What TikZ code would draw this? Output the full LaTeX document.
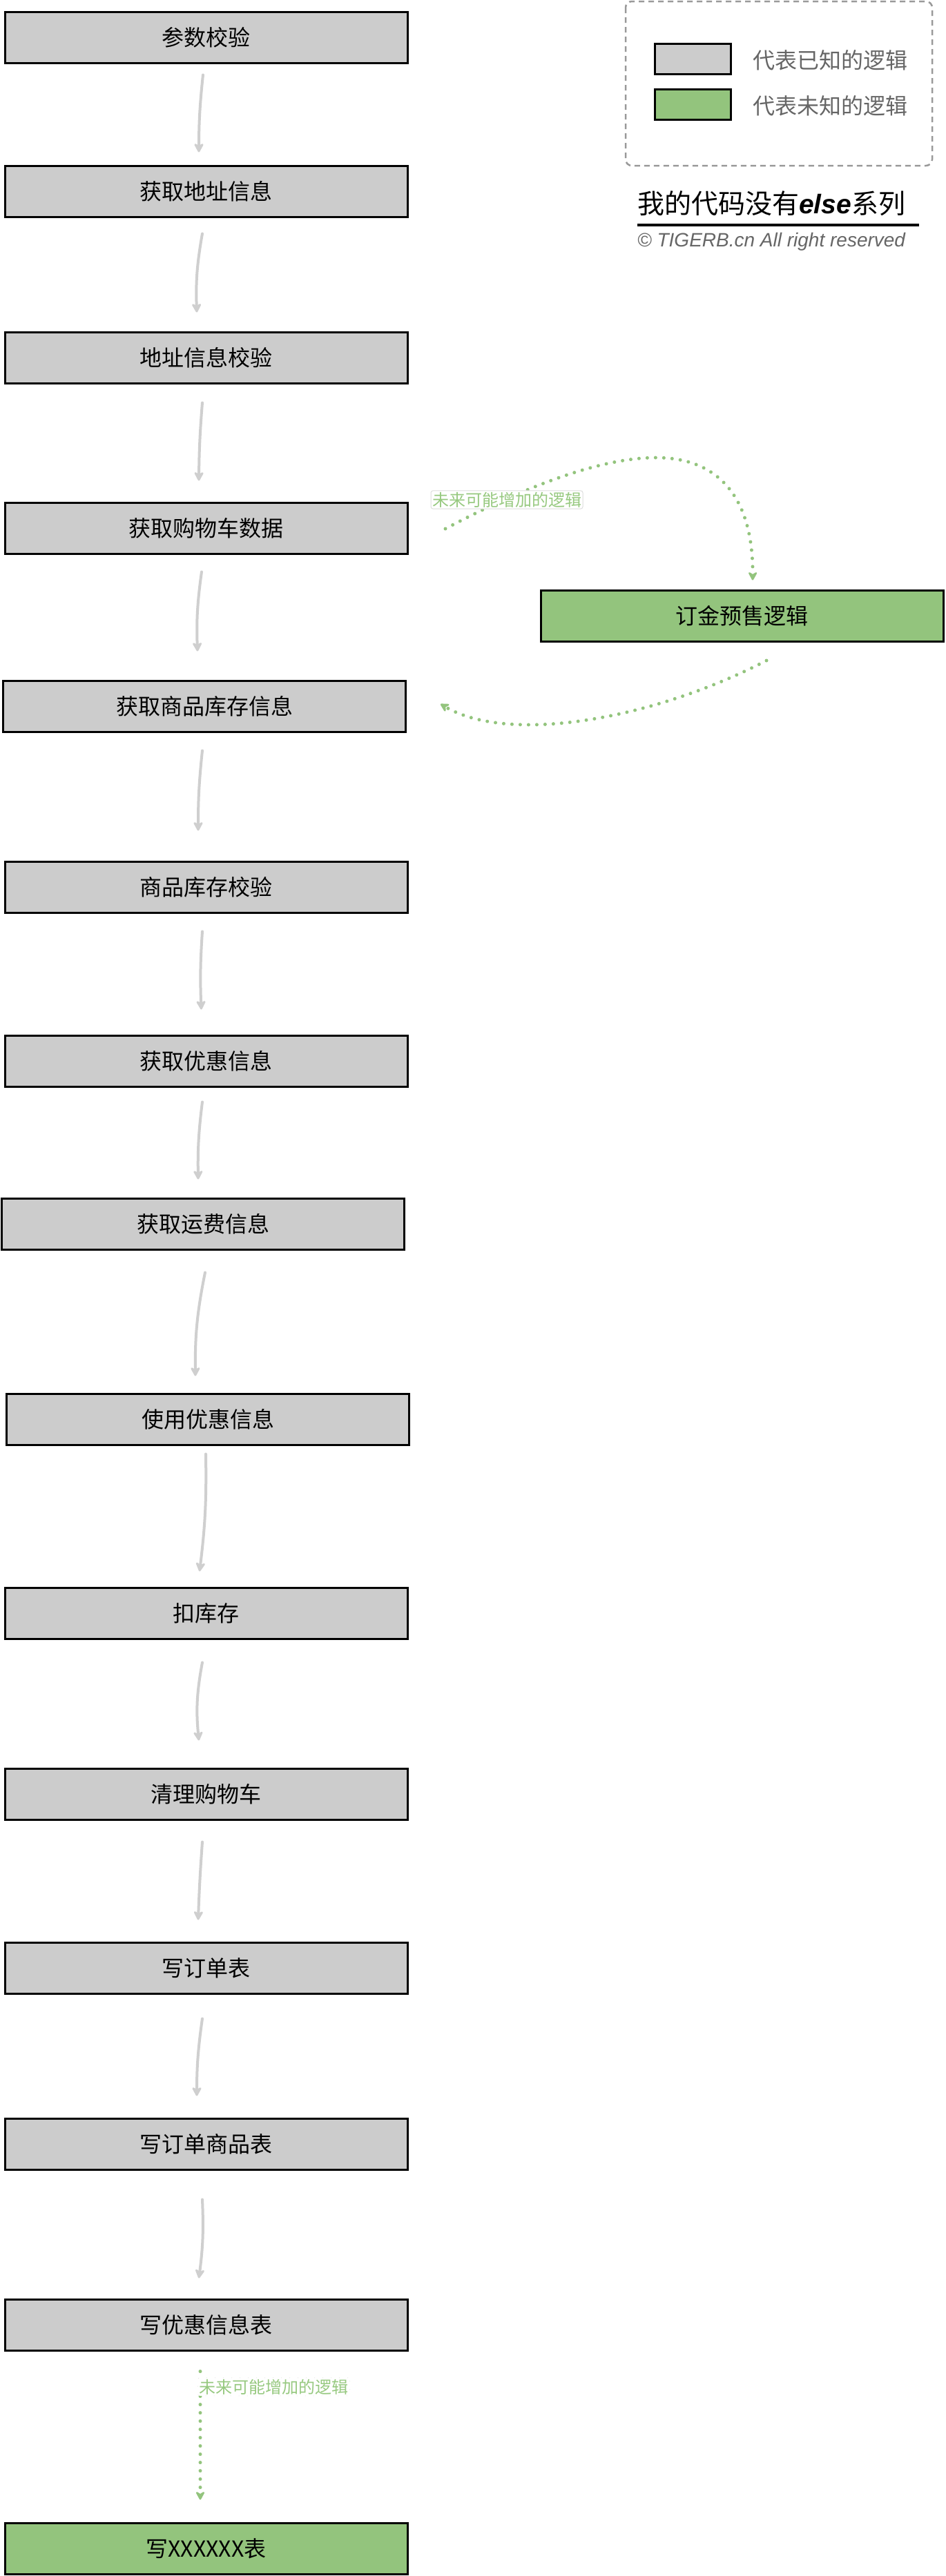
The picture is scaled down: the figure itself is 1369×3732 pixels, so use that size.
\documentclass[tikz,border=0pt]{standalone}
\usepackage{fontspec}
\setmainfont{Noto Sans CJK SC}
\newfontfamily\latinsans{Liberation Sans}
\usetikzlibrary{arrows.meta}
\definecolor{boxgray}{HTML}{CCCCCC}
\definecolor{boxgreen}{HTML}{93C47D}
\definecolor{arrgray}{HTML}{CFCFCF}
\definecolor{dotgreen}{HTML}{93C47D}
\definecolor{lbltext}{HTML}{97C980}
\definecolor{legtext}{HTML}{666666}
\definecolor{legdash}{HTML}{999999}
\definecolor{lblborder}{HTML}{DDDDDD}
\begin{document}
\begin{tikzpicture}[x=1pt,y=1pt,
 stepbox/.style={draw=black,line width=3pt,fill=boxgray,minimum width=583pt,minimum height=74pt,inner sep=0pt,font=\fontsize{32}{38}\selectfont},
 newbox/.style={stepbox,fill=boxgreen},
 garrow/.style={draw=arrgray,line width=4pt,line cap=round,-{Stealth[length=16pt,width=17pt,inset=5pt,round]}},
 gdots/.style={draw=dotgreen,line width=5pt,line cap=round,dash pattern=on 0pt off 12pt,-{Stealth[length=15pt,width=16pt,inset=5pt,round]}},
 lbl/.style={draw=lblborder,fill=white,rounded corners=3pt,line width=1pt,text=lbltext,font=\fontsize{24}{28}\selectfont,inner sep=2pt},
 swatch/.style={draw=black,line width=3pt,minimum width=110pt,minimum height=44pt,inner sep=0pt},
 legtxt/.style={anchor=west,text=legtext,font=\fontsize{32}{38}\selectfont,inner sep=0pt},
]
\useasboundingbox (0,0) rectangle (1369,-3732);
\fill[white] (0,0) rectangle (1369,-3732);

% main boxes
\node[stepbox] (b1) at (298.5,-54) {参数校验};
\node[stepbox] (b2) at (298.5,-277) {获取地址信息};
\node[stepbox] (b3) at (298.5,-518) {地址信息校验};
\node[stepbox] (b4) at (298.5,-765) {获取购物车数据};
\node[stepbox] (b5) at (296,-1023) {获取商品库存信息};
\node[stepbox] (b6) at (298.5,-1285) {商品库存校验};
\node[stepbox] (b7) at (298.5,-1537) {获取优惠信息};
\node[stepbox] (b8) at (294,-1773) {获取运费信息};
\node[stepbox] (b9) at (301,-2056) {使用优惠信息};
\node[stepbox] (b10) at (298.5,-2337) {扣库存};
\node[stepbox] (b11) at (298.5,-2599) {清理购物车};
\node[stepbox] (b12) at (298.5,-2851) {写订单表};
\node[stepbox] (b13) at (298.5,-3106) {写订单商品表};
\node[stepbox] (b14) at (298.5,-3368) {写优惠信息表};
\node[newbox] (b15) at (298.5,-3692) {写XXXXXX表};
\node[newbox] (g) at (1074.5,-892) {订金预售逻辑};

% gray arrows
\draw[garrow] ([xshift=-4.5pt,yshift=-16pt]b1.south) to[bend right=3] ([xshift=-10.5pt,yshift=18pt]b2.north);
\draw[garrow] ([xshift=-5.5pt,yshift=-23pt]b2.south) to[bend right=6] ([xshift=-13.5pt,yshift=27pt]b3.north);
\draw[garrow] ([xshift=-5.5pt,yshift=-27pt]b3.south) to[bend right=2] ([xshift=-10.5pt,yshift=30pt]b4.north);
\draw[garrow] ([xshift=-6.5pt,yshift=-25pt]b4.south) to[bend right=5] ([xshift=-10pt,yshift=41pt]b5.north);
\draw[garrow] ([xshift=-3pt,yshift=-26pt]b5.south) to[bend right=3] ([xshift=-11.5pt,yshift=43pt]b6.north);
\draw[garrow] ([xshift=-5.5pt,yshift=-26pt]b6.south) to[bend right=3] ([xshift=-7pt,yshift=36pt]b7.north);
\draw[garrow] ([xshift=-5.5pt,yshift=-21pt]b7.south) to[bend right=4] ([xshift=-7pt,yshift=26pt]b8.north);
\draw[garrow] ([xshift=3pt,yshift=-32pt]b8.south) to[bend right=6] ([xshift=-18pt,yshift=24pt]b9.north);
\draw[garrow] ([xshift=-3pt,yshift=-12pt]b9.south) to[bend left=4] ([xshift=-9.5pt,yshift=22pt]b10.north);
\draw[garrow] ([xshift=-5.5pt,yshift=-33pt]b10.south) to[bend right=8] ([xshift=-10.5pt,yshift=39pt]b11.north);
\draw[garrow] ([xshift=-5.5pt,yshift=-31pt]b11.south) to[bend right=1] ([xshift=-11.5pt,yshift=31pt]b12.north);
\draw[garrow] ([xshift=-5.5pt,yshift=-35pt]b12.south) to[bend right=4] ([xshift=-13.5pt,yshift=31pt]b13.north);
\draw[garrow] ([xshift=-5.5pt,yshift=-42pt]b13.south) to[bend left=5] ([xshift=-10.5pt,yshift=29pt]b14.north);

% green dotted connectors
\coordinate (c1s) at (645,-766);
\coordinate (c1p) at (950,-663);
\draw[gdots] (c1s) .. controls (760,-705) and (870,-663) .. (c1p)
  .. controls (1040,-663) and (1091,-720) .. ([xshift=15.5pt,yshift=13pt]g.north);
\node[lbl] (l1) at (734,-724) {未来可能增加的逻辑};

\coordinate (c2s) at (1110,-957);
\draw[gdots] (c2s) .. controls (950,-1040) and (740,-1080) .. ([xshift=49pt,yshift=3pt]b5.east);

\draw[gdots] ([xshift=-8.5pt,yshift=-29pt]b14.south) -- node[lbl,pos=0.12,anchor=west,xshift=-4pt] (l2) {未来可能增加的逻辑} ([xshift=-8.5pt,yshift=32pt]b15.north);

% legend
\draw[legdash,line width=2.5pt,dash pattern=on 8pt off 6pt,rounded corners=9pt] (906,-2) rectangle (1350,-240);
\node[swatch,fill=boxgray] (s1) at (1003,-85) {};
\node[swatch,fill=boxgreen] (s2) at (1003,-151) {};
\node[legtxt] (t1) at (1090,-87) {代表已知的逻辑};
\node[legtxt] (t2) at (1090,-153) {代表未知的逻辑};

% title
\node[anchor=west,inner sep=0pt,font=\fontsize{39}{44}\selectfont] (title) at (923,-295) {我的代码没有{\latinsans\bfseries\itshape else}系列};
\draw[line width=4pt] (923,-326) -- (1331,-326);
\node[anchor=west,inner sep=0pt,text=legtext,font=\latinsans\itshape\fontsize{28}{32}\selectfont] (copy) at (923,-350) {© TIGERB.cn All right reserved};
\end{tikzpicture}
\end{document}
